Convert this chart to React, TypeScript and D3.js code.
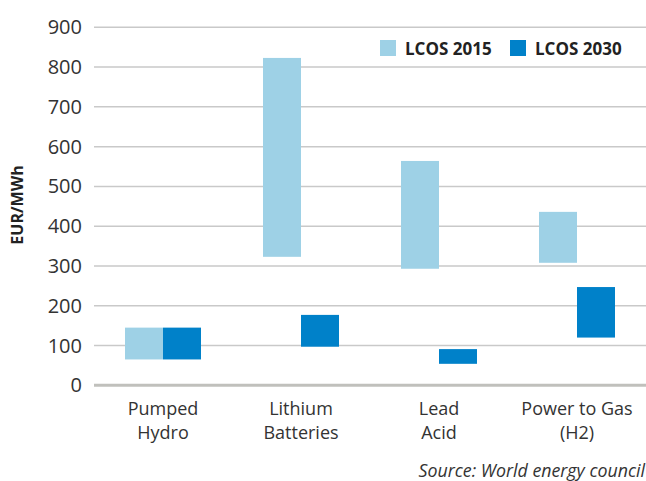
// Floating range bars: levelized cost of storage, 2015 vs 2030
import React from 'react';
import * as d3 from 'd3';

const categories = ['Pumped Hydro', 'Lithium Batteries', 'Lead Acid', 'Power to Gas (H2)'];
const categoryLines = [['Pumped', 'Hydro'], ['Lithium', 'Batteries'], ['Lead', 'Acid'], ['Power to Gas', '(H2)']];
const seriesNames = ['LCOS 2015', 'LCOS 2030'];
const seriesColors = ['#9ed1e6', '#0081c9'];

// [low, high] per category
const lcos2015 = [[65, 145], [323, 823], [293, 564], [308, 436]];
const lcos2030 = [[65, 145], [97, 177], [54, 91], [120, 247]];
const yTicks = [0, 100, 200, 300, 400, 500, 600, 700, 800, 900];

const W = 646;
const H = 481;
const FONT = '"Open Sans", sans-serif';

export default function App() {
  const left = 94;
  const right = 646;
  const y = d3.scaleLinear().domain([0, 900]).range([385.3, 27.3]);
  const x0 = d3.scaleBand().domain(categories).range([left, right]).padding(0);
  const groupW = 76;
  const x1 = d3.scaleBand().domain(seriesNames).range([0, groupW]).padding(0);
  const series = [lcos2015, lcos2030];

  return (
    <svg width={W} height={H} style={{ position: 'absolute', left: 0, top: 0, background: '#fff' }}>
      {/* grid */}
      {yTicks.filter(t => t > 0).map(t => (
        <line key={t} x1={left} x2={right} y1={y(t)} y2={y(t)} stroke="#c9c9c9" strokeWidth={1.5} />
      ))}
      {yTicks.map(t => (
        <text key={'l' + t} x={82} y={y(t) + 7} textAnchor="end" fontFamily={FONT} fontSize={20} fill="#333">
          {t}
        </text>
      ))}

      {/* bars */}
      {series.map((data, si) =>
        data.map(([lo, hi], ci) => (
          <rect
            key={si + '-' + ci}
            x={x0(categories[ci])! + (x0.bandwidth() - groupW) / 2 + x1(seriesNames[si])!}
            width={x1.bandwidth()}
            y={y(hi)}
            height={y(lo) - y(hi)}
            fill={seriesColors[si]}
          />
        ))
      )}

      {/* baseline */}
      <line x1={left} x2={right} y1={y(0)} y2={y(0)} stroke="#c0c0bc" strokeWidth={3} />

      {/* category labels */}
      {categoryLines.map((lines, ci) => (
        <text key={ci} textAnchor="middle" fontFamily={FONT} fontSize={18} fill="#333">
          {lines.map((ln, li) => (
            <tspan key={li} x={x0(categories[ci])! + x0.bandwidth() / 2} y={415 + li * 24}>
              {ln}
            </tspan>
          ))}
        </text>
      ))}

      {/* y title */}
      <text
        transform="translate(23,205) rotate(-90)"
        textAnchor="middle"
        fontFamily={FONT}
        fontSize={16}
        fontWeight="bold"
        fill="#222"
      >
        EUR/MWh
      </text>

      {/* legend */}
      {seriesNames.map((s, i) => (
        <g key={s} transform={`translate(${380 + i * 130},40)`}>
          <rect width={16} height={16} fill={seriesColors[i]} />
          <text x={25} y={15} fontFamily={FONT} fontSize={17} fontWeight="bold" fill="#222">
            {s}
          </text>
        </g>
      ))}

      {/* source */}
      <text x={645} y={477} textAnchor="end" fontFamily={FONT} fontSize={17.8} fontStyle="italic" fill="#333">
        Source: World energy council
      </text>
    </svg>
  );
}
